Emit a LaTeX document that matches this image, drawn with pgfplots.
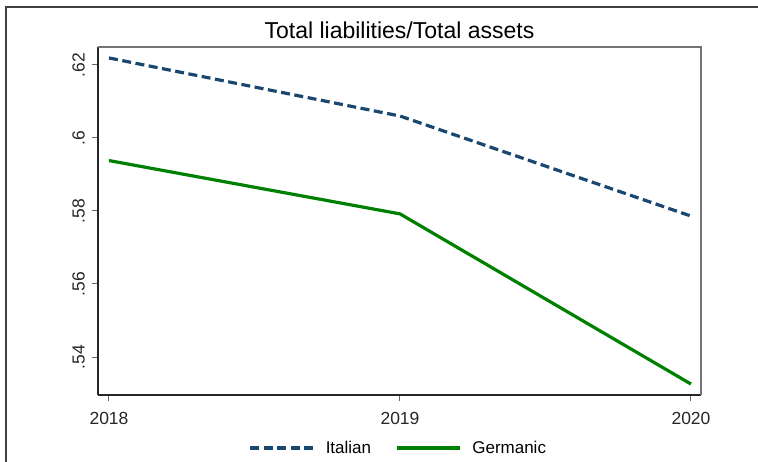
\documentclass[border=0pt]{standalone}
\usepackage{fontspec}
\setmainfont{Liberation Sans}
\usepackage{pgfplots}
\pgfplotsset{compat=1.18}
\definecolor{ital}{RGB}{26,71,111}
\definecolor{germ}{RGB}{0,128,0}
\begin{document}
\begin{tikzpicture}[x=1pt,y=1pt]
\useasboundingbox (0,0) rectangle (758,-461);
\draw[line width=1.3pt, black!75] (6,-475) -- (6,-7) -- (775,-7);
\begin{axis}[
 at={(98pt,-395pt)}, anchor=south west,
 scale only axis, width=603pt, height=348pt,
 xmin=2017.9622, xmax=2020.0344,
 ymin=0.5296, ymax=0.6249,
 axis x line*=bottom, axis y line*=left,
 axis line style={line width=1.5pt, black!85, -},
 xtick={2018,2019,2020},
 xticklabels={2018,2019,2020},
 ytick={0.54,0.56,0.58,0.6,0.62},
 yticklabels={.54,.56,.58,.6,.62},
 tick align=outside,
 major tick length=6pt,
 tick style={line width=1pt, black!60},
 /pgf/number format/assume math mode=true,
 ticklabel style={font=\fontsize{17.5}{20}\selectfont, text=black!85},
 xticklabel style={anchor=north, inner sep=0pt, yshift=-11pt},
 yticklabel style={xshift=-7pt, rotate=90, anchor=south, inner sep=0pt},
 title={Total liabilities/Total assets},
 title style={font=\fontsize{23}{26}\selectfont, at={(0.5,1)}, anchor=base, yshift=3pt, inner sep=0pt},
 legend style={draw=none, at={(0.498,-0.152)}, anchor=center, font=\fontsize{17}{20}\selectfont, /tikz/every even column/.append style={column sep=22pt}, /tikz/every odd column/.append style={column sep=9pt}},
 legend columns=2,
 legend image code/.code={\draw[#1] (0pt,0pt) -- (63pt,0pt);},
 clip=false,
]
\draw[black!55, line width=1.2pt] (rel axis cs:0,1) -- (rel axis cs:1,1) -- (rel axis cs:1,0);
\addplot[ital, line width=3.2pt, dash pattern=on 9pt off 4.5pt] coordinates {(2018,0.6219) (2019,0.6060) (2020,0.5786)};
\addlegendentry{Italian}
\addplot[germ, line width=3.2pt] coordinates {(2018,0.5938) (2019,0.5792) (2020,0.5326)};
\addlegendentry{Germanic}
\end{axis}
\end{tikzpicture}
\end{document}
